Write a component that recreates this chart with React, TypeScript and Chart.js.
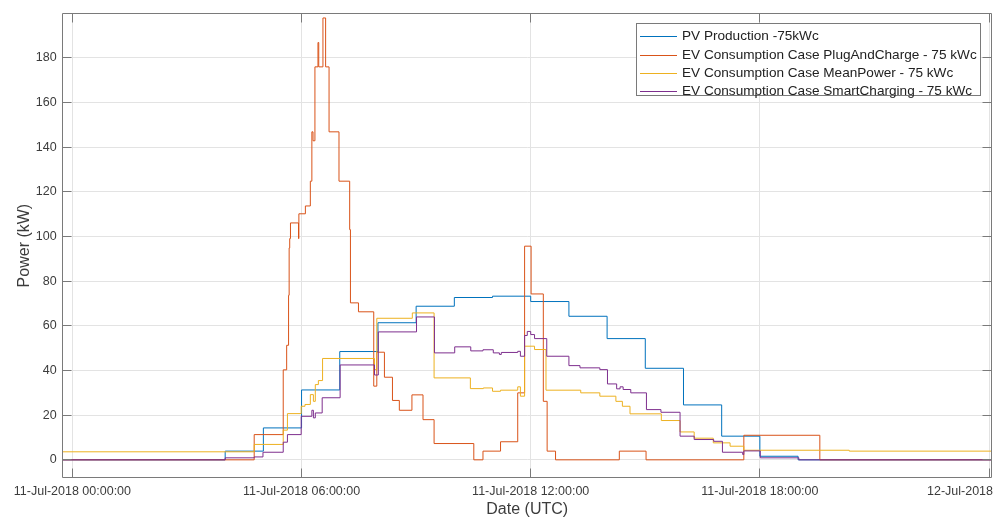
import React, { useEffect, useRef } from "react";
import { Chart, registerables } from "chart.js";

Chart.register(...registerables);

// ---- Axis ticks ----
const xTickHours = [0, 6, 12, 18, 24];
const xTickLabels = [
  "11-Jul-2018 00:00:00",
  "11-Jul-2018 06:00:00",
  "11-Jul-2018 12:00:00",
  "11-Jul-2018 18:00:00",
  "12-Jul-2018",
];
const yTicks = [0, 20, 40, 60, 80, 100, 120, 140, 160, 180];

// ---- Series names ----
const seriesNames = [
  "PV Production -75kWc",
  "EV Consumption Case PlugAndCharge - 75 kWc",
  "EV Consumption Case MeanPower - 75 kWc",
  "EV Consumption Case SmartCharging - 75 kWc",
];

// ---- PV Production (hours since 11-Jul-2018 00:00 UTC, kW) ----
const pvHours = [-0.3, 4.0, 5.0, 6.0, 7.0, 8.0, 9.0, 10.0, 11.0, 12.0, 13.0, 14.0, 15.0, 16.0, 17.0, 18.0, 19.0, 24.1];
const pvValues = [0, 3.9, 14.3, 31.3, 48.5, 61.4, 68.8, 72.7, 73.3, 70.9, 64.3, 54.3, 41.0, 24.6, 10.6, 1.6, 0, 0];

// ---- EV PlugAndCharge ----
const pacHours = [-0.3, 4.76, 5.52, 5.61, 5.66, 5.675, 5.69, 5.71, 5.92, 5.93, 6.1, 6.23, 6.27, 6.3, 6.35, 6.43, 6.45, 6.56, 6.63, 6.72, 6.98, 7.26, 7.28, 7.49, 7.89, 7.97, 8.17, 8.38, 8.56, 8.89, 9.18, 9.47, 10.51, 10.75, 11.21, 11.66, 11.84, 12.01, 12.33, 12.43, 12.65, 14.32, 15.02, 17.58, 19.57, 24.1];
const pacValues = [0, 11.3, 40.3, 51.3, 73.7, 94.9, 99.1, 106.1, 99.1, 110.2, 113.7, 124.8, 146.9, 142.9, 176.0, 186.9, 176.0, 197.9, 176.0, 146.9, 124.8, 103.1, 70.3, 66.3, 33.0, 48.2, 37.0, 26.6, 22.2, 29.1, 18.0, 7.3, 0, 3.9, 8.1, 30.0, 95.7, 74.3, 26.2, 3.9, 0, 3.9, 0, 11.0, 0, 0];

// ---- EV MeanPower ----
const mpHours = [-0.3, 4.76, 5.52, 5.63, 5.99, 6.09, 6.23, 6.31, 6.36, 6.44, 6.55, 7.91, 7.97, 8.9, 9.47, 10.42, 10.76, 11.0, 11.21, 11.66, 11.73, 11.84, 12.1, 12.4, 13.31, 13.81, 14.23, 14.4, 14.6, 15.42, 15.91, 16.28, 16.78, 17.22, 17.58, 20.34, 24.1];
const mpValues = [3.6, 6.9, 13.3, 20.7, 24.0, 24.8, 29.2, 26.2, 33.7, 35.5, 45.4, 40.4, 63.4, 65.8, 36.7, 31.9, 32.2, 30.7, 31.2, 32.7, 28.5, 50.9, 49.4, 31.2, 30.0, 28.5, 26.2, 24.0, 20.6, 17.6, 12.5, 9.7, 7.6, 6.1, 4.3, 3.9, 3.9];

// ---- EV SmartCharging ----
const scHours = [-0.3, 4.0, 4.76, 4.99, 5.52, 5.63, 5.99, 6.27, 6.31, 6.36, 6.54, 7.01, 7.91, 8.01, 9.01, 9.48, 10.01, 10.43, 10.75, 11.02, 11.18, 11.23, 11.66, 11.73, 11.84, 11.91, 12.0, 12.1, 12.42, 13.0, 13.29, 13.81, 14.01, 14.25, 14.34, 14.42, 14.62, 15.03, 15.41, 15.91, 16.28, 16.79, 17.02, 17.55, 17.58, 18.01, 19.02, 24.1];
const scValues = [0, 0.9, 1.3, 3.4, 7.9, 11.3, 19.5, 22.2, 18.8, 21.0, 27.8, 42.5, 38.0, 57.3, 64.0, 47.9, 50.6, 48.8, 49.3, 47.9, 47.2, 48.1, 48.6, 46.4, 55.7, 57.5, 56.1, 54.3, 46.4, 42.2, 41.2, 40.4, 34.0, 31.8, 32.7, 31.5, 30.0, 22.5, 21.3, 10.6, 9.1, 8.3, 3.4, 2.4, 4.0, 0.9, 0, 0];

const COLORS = ["#0072BD", "#D95319", "#EDB120", "#7E2F8E"];
const FONT = "'Liberation Sans', Arial, Helvetica, sans-serif";
const TEXT = "#3c3c3c";
const AXIS = "#7a7a7a";

const toPoints = (xs: number[], ys: number[]) => xs.map((x, i) => ({ x, y: ys[i] }));

const matlabAxes = {
  id: "matlabAxes",
  afterDraw(chart: any) {
    const { ctx, chartArea: ca, scales } = chart;
    const xs = scales.x;
    const ys = scales.y;
    const L = Math.floor(ca.left) + 0.5;
    const R = Math.floor(ca.right) + 0.5;
    const T = Math.floor(ca.top) + 0.5;
    const B = Math.floor(ca.bottom) + 0.5;
    const tl = 9;
    ctx.save();
    ctx.strokeStyle = AXIS;
    ctx.lineWidth = 1;
    ctx.beginPath();
    ctx.rect(L, T, R - L, B - T);
    xTickHours.forEach((h) => {
      const px = Math.floor(xs.getPixelForValue(h)) + 0.5;
      ctx.moveTo(px, B);
      ctx.lineTo(px, B - tl);
      ctx.moveTo(px, T);
      ctx.lineTo(px, T + tl);
    });
    yTicks.forEach((v) => {
      const py = Math.floor(ys.getPixelForValue(v)) + 0.5;
      ctx.moveTo(L, py);
      ctx.lineTo(L + tl, py);
      ctx.moveTo(R, py);
      ctx.lineTo(R - tl, py);
    });
    ctx.stroke();
    // x tick labels
    ctx.fillStyle = TEXT;
    ctx.font = `12.5px ${FONT}`;
    ctx.textAlign = "center";
    ctx.textBaseline = "middle";
    xTickHours.forEach((h, i) => {
      const label = xTickLabels[i];
      const w = ctx.measureText(label).width;
      let px = xs.getPixelForValue(h);
      px = Math.min(px, chart.width - 8 - w / 2);
      ctx.fillText(label, px, 491.5);
    });
    ctx.restore();
  },
};

export default function App() {
  const ref = useRef<HTMLCanvasElement | null>(null);

  useEffect(() => {
    document.body.style.margin = "0";
    const canvas = ref.current;
    if (!canvas) return;
    const series = [
      [pvHours, pvValues],
      [pacHours, pacValues],
      [mpHours, mpValues],
      [scHours, scValues],
    ];
    const chart = new Chart(canvas, {
      type: "line",
      data: {
        datasets: series.map(([xs, ys], i) => ({
          label: seriesNames[i],
          data: toPoints(xs as number[], ys as number[]),
          borderColor: COLORS[i],
          backgroundColor: COLORS[i],
          borderWidth: 1,
          pointRadius: 0,
          stepped: "before" as const,
          fill: false,
          order: 3 - i,
        })),
      },
      options: {
        animation: false,
        responsive: false,
        devicePixelRatio: 1,
        layout: { padding: { left: 0, right: 9.3, top: 13.3, bottom: 0 } },
        plugins: { legend: { display: false }, tooltip: { enabled: false } },
        scales: {
          x: {
            type: "linear",
            min: -0.254,
            max: 24.07,
            afterBuildTicks: (s: any) => {
              s.ticks = xTickHours.map((v) => ({ value: v }));
            },
            afterFit: (s: any) => {
              s.height = 41.3;
            },
            ticks: { display: false },
            grid: { color: "#e3e3e3", drawTicks: false },
            border: { display: false },
            title: {
              display: true,
              text: "Date (UTC)",
              color: TEXT,
              font: { family: FONT, size: 16 },
              padding: { top: 0, bottom: 0 },
            },
          },
          y: {
            type: "linear",
            min: -8,
            max: 199.9,
            afterBuildTicks: (s: any) => {
              s.ticks = yTicks.map((v) => ({ value: v }));
            },
            afterFit: (s: any) => {
              s.width = 62.7;
            },
            ticks: {
              color: TEXT,
              font: { family: FONT, size: 12.5 },
              padding: 6,
            },
            grid: { color: "#e3e3e3", drawTicks: false },
            border: { display: false },
            title: {
              display: true,
              text: "Power (kW)",
              color: TEXT,
              font: { family: FONT, size: 16 },
              padding: { top: 15.4, bottom: 0 },
            },
          },
        },
      },
      plugins: [matlabAxes],
    } as any);
    return () => chart.destroy();
  }, []);

  const rowTop = (i: number) => 3.4 + i * 18.1;

  return (
    <div style={{ position: "relative", width: 1001, height: 519 }}>
      <canvas ref={ref} width={1001} height={519} style={{ width: 1001, height: 519, display: "block" }} />
      <div
        style={{
          position: "absolute",
          left: 636,
          top: 23,
          width: 345,
          height: 73,
          background: "#ffffff",
          border: `1px solid ${AXIS}`,
          boxSizing: "border-box",
          fontFamily: FONT,
          fontSize: 13.6,
          color: "#222222",
        }}
      >
        {seriesNames.map((name, i) => (
          <div
            key={name}
            style={{ position: "absolute", left: 0, top: rowTop(i), height: 18, lineHeight: "18px", whiteSpace: "nowrap" }}
          >
            <span
              style={{
                position: "absolute",
                left: 3,
                top: 9,
                width: 37,
                height: 1,
                background: COLORS[i],
              }}
            />
            <span style={{ position: "absolute", left: 45, top: 0 }}>{name}</span>
          </div>
        ))}
      </div>
    </div>
  );
}
